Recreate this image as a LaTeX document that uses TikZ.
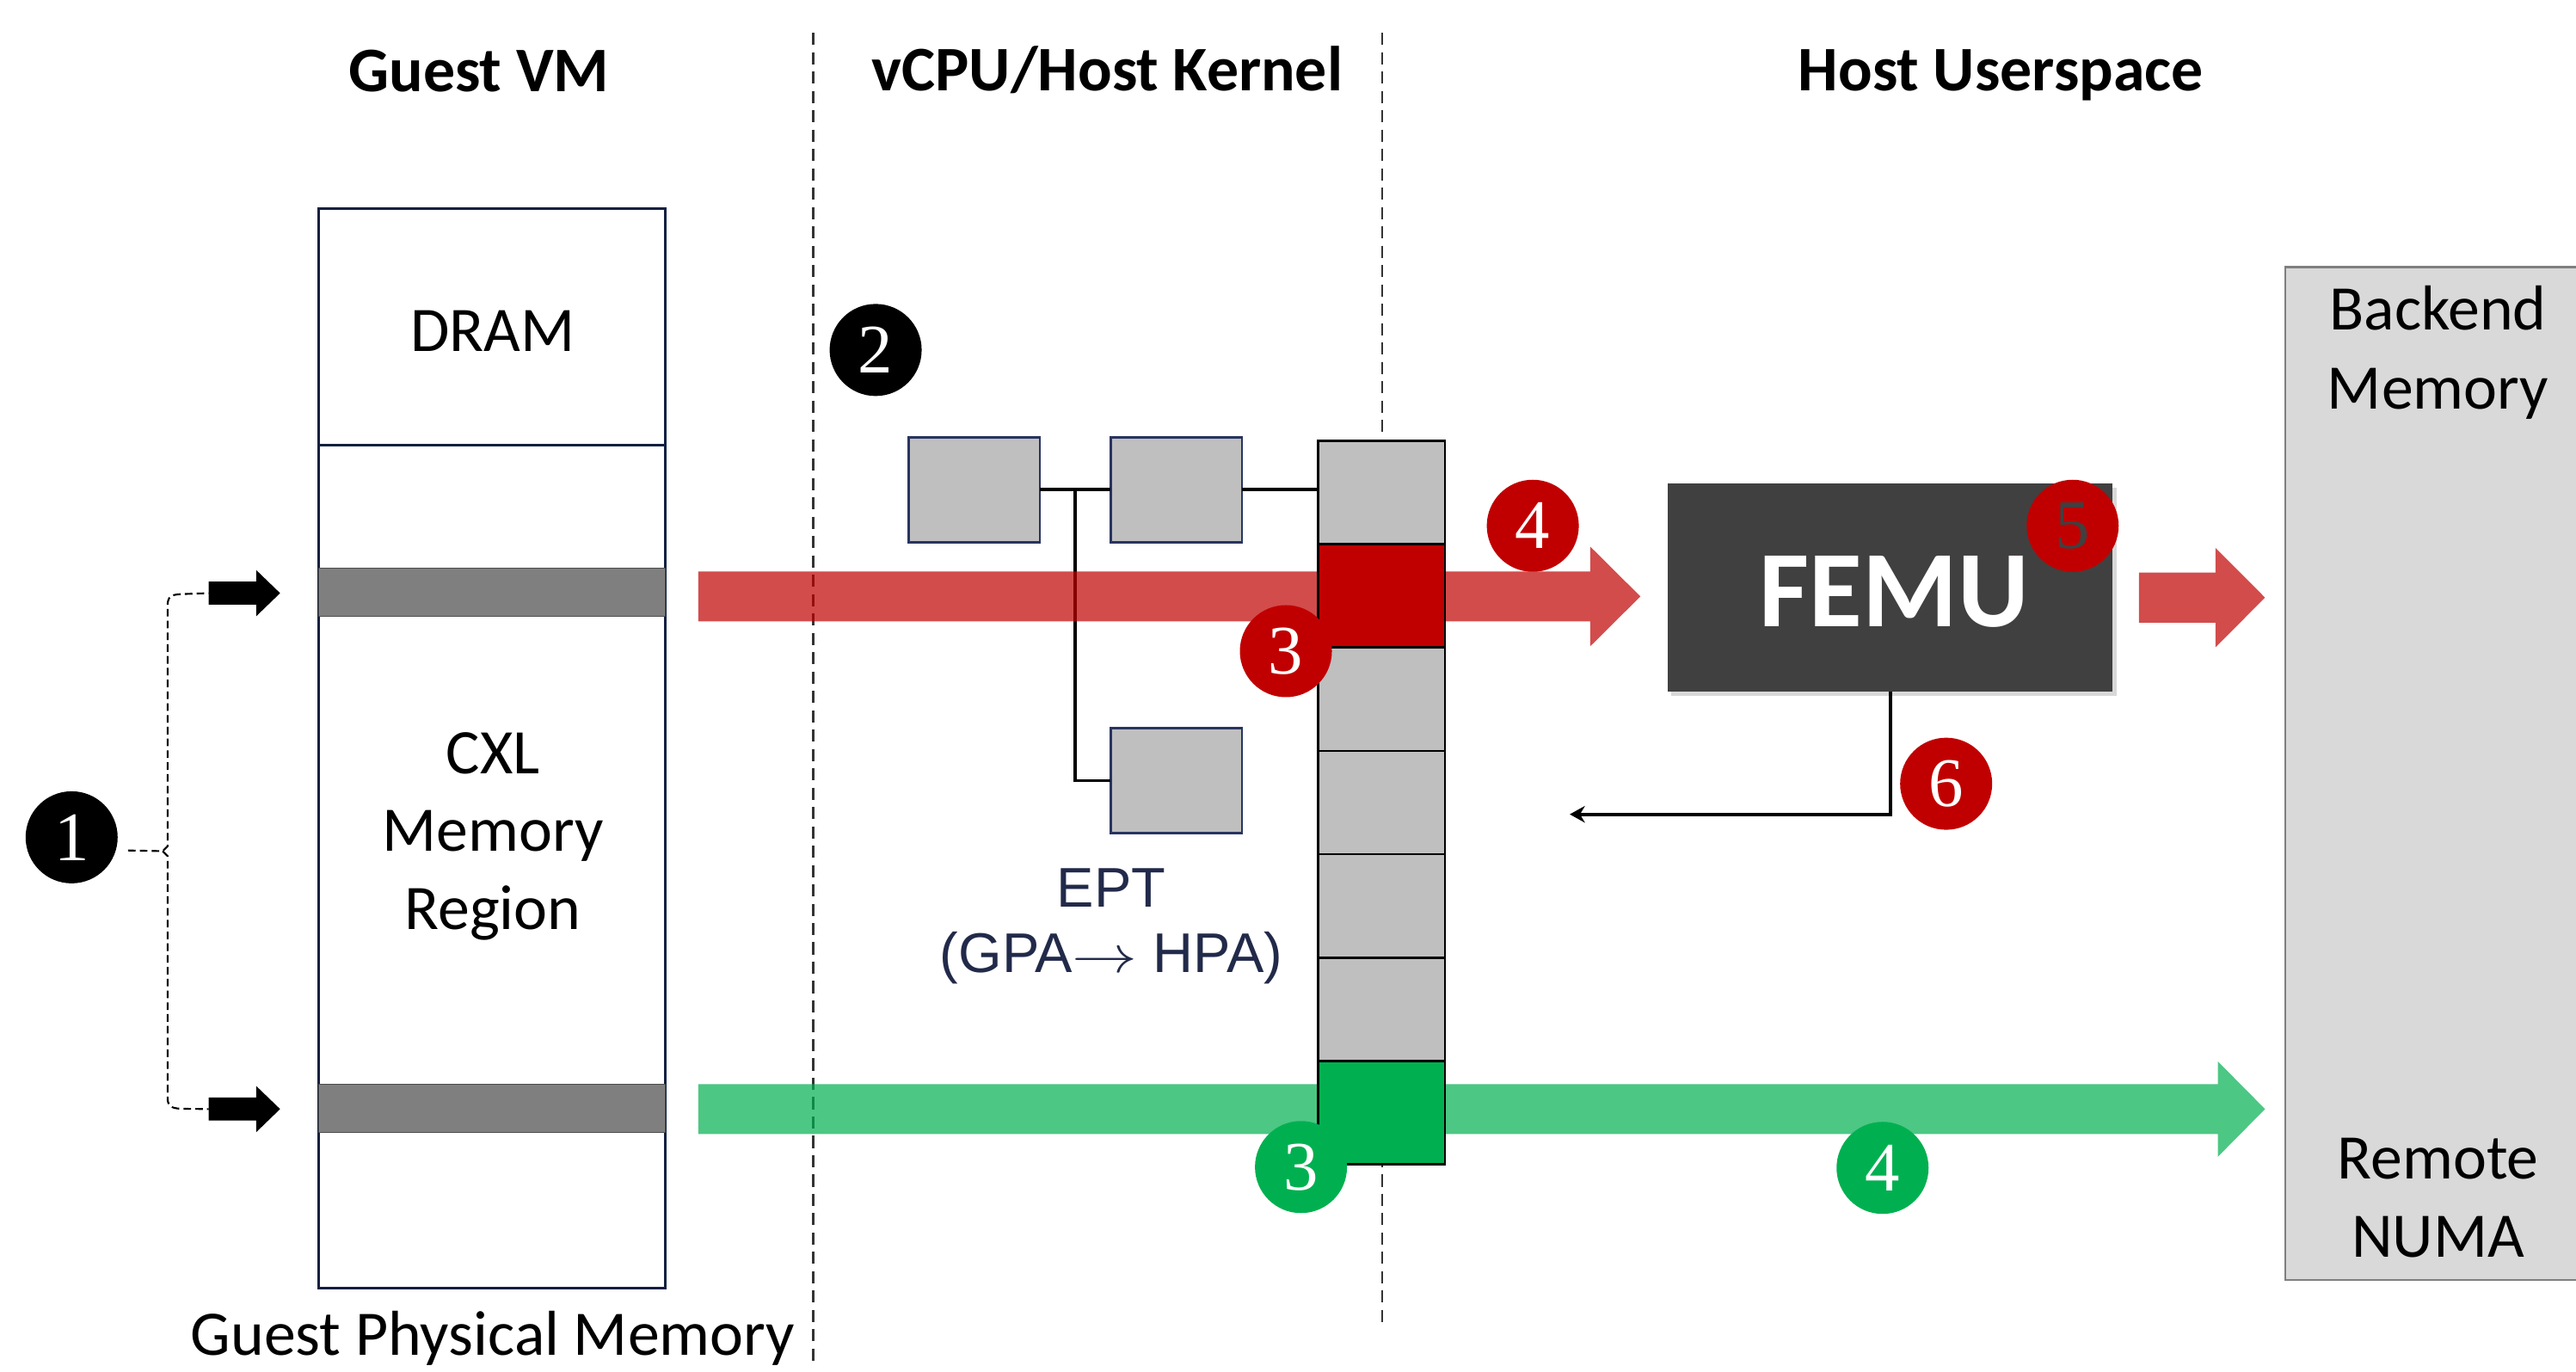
\documentclass[tikz,border=0pt]{standalone}
\usepackage{fontspec}
\setmainfont{Carlito}
\newfontfamily\numfont{Liberation Serif}
\newfontfamily\eptfont{Liberation Sans}
\usetikzlibrary{arrows.meta,shadows,calc}
\definecolor{navy}{RGB}{16,32,64}
\definecolor{boxnavy}{RGB}{40,52,96}
\definecolor{cellgray}{RGB}{191,191,191}
\definecolor{barfill}{RGB}{127,127,127}
\definecolor{dred}{RGB}{192,0,0}
\definecolor{dgreen}{RGB}{0,176,80}
\definecolor{femubg}{RGB}{64,64,64}
\definecolor{eptc}{RGB}{34,42,74}
\definecolor{backfill}{RGB}{217,217,217}
\definecolor{backline}{RGB}{127,127,127}
\newcommand\blkarrow[7]{\fill[#1] ({#2},{#5-#6}) -- ({#3},{#5-#6}) -- ({#3},{#5-#7}) -- ({#4},{#5}) -- ({#3},{#5+#7}) -- ({#3},{#5+#6}) -- ({#2},{#5+#6}) -- cycle;}
\begin{document}
\begin{tikzpicture}[x=0.191mm,y=-0.191mm,
  sz/.style 2 args={minimum width=#1*0.191mm, minimum height=#2*0.191mm},
  blockbox/.style={anchor=north west, inner sep=0pt, outer sep=0pt},
  hdr/.style={font=\bfseries\fontsize{21}{25}\selectfont, anchor=base, inner sep=0pt},
  txt/.style={font=\fontsize{21}{25.8}\selectfont, align=center, inner sep=0pt},
  numc/.style={circle, minimum size=10.7mm, inner sep=0pt, text=white, font=\numfont\fontsize{23}{23}\selectfont},
  blknum/.style={numc, fill=black},
  rednum/.style={numc, fill=dred},
  grnnum/.style={numc, fill=dgreen},
  smallbox/.style={blockbox, sz={80}{64}, fill=cellgray, draw=boxnavy, line width=0.8pt},
  cellbox/.style={blockbox, sz={77}{62.9}, draw=black, line width=0.8pt},
  tree/.style={draw=black, line width=1pt},
  sectline/.style={draw=black!80, line width=0.6pt, dash pattern=on 4pt off 2.4pt},
  bracketline/.style={draw=black, line width=0.6pt, dash pattern=on 2.5pt off 1.4pt},
  fbline/.style={draw=black, line width=1.1pt, -{Stealth[length=5pt,width=5.5pt]}}
]
\useasboundingbox (0,0) rectangle (1568,835);
\fill[white] (0,0) rectangle (1568,835);

% backend memory
\node[blockbox, sz={200}{616.5}, fill=backfill] (back) at (1391,162.5) {};
\draw[backline, line width=0.8pt] (back.north east) -- (back.north west) -- (back.south west) -- (back.south east);
\node[txt, font=\fontsize{21}{26}\selectfont] (backt) at (1484,214.5) {Backend\\Memory};
\node[txt, font=\fontsize{21}{26}\selectfont] (numat) at (1484,729) {Remote\\NUMA};

% section lines
\coordinate (d1t) at (495,20); \coordinate (d1b) at (495,828);
\coordinate (d2t) at (841.4,20); \coordinate (d2b) at (841.4,808);
\draw[sectline] (d1t) -- (d1b);
\draw[sectline] (d2t) -- (d2b);

% guest physical memory
\node[blockbox, sz={211}{657}, draw=navy, line width=0.9pt] (gm) at (194,127) {};
\coordinate (sepL) at (194,271);
\draw[navy, line width=0.8pt] (sepL) -- (sepL -| gm.east);
\node[blockbox, sz={211}{29}, fill=barfill, draw=black!70, line width=0.3pt] (bar1) at (194,346) {};
\node[blockbox, sz={211}{29}, fill=barfill, draw=black!70, line width=0.3pt] (bar2) at (194,660) {};
\node[txt, anchor=base] (dram) at (300,213.8) {DRAM};
\node[txt] (cxl) at (300,509) {CXL\\Memory\\Region};
\node[txt, anchor=base] (gpmt) at (300,825) {Guest Physical Memory};

% step 1
\node[blknum] (n1) at (43.6,509.6) {1};
\coordinate (a1) at (127,361);
\coordinate (a2) at (127,675);
\draw[bracketline] ($(n1.east)+(6,8)$) -- (99,518) -- (102,515) -- (102,369) .. controls (102,363) and (104,362) .. (110,361.6) -- (a1);
\draw[bracketline] (99,518) -- (102,521) -- (102,668) .. controls (102,673) and (104,674.5) .. (110,674.8) -- (a2);
\blkarrow{black}{127}{156}{170.5}{361}{7}{14}
\blkarrow{black}{127}{156}{170.5}{675}{7}{14}

% EPT tree
\node[smallbox] (A) at (553,266) {};
\node[smallbox] (B) at (676,266) {};
\node[smallbox] (C) at (676,443) {};
\coordinate (j) at ($(A.east)!0.5!(B.west)$);

% table
\foreach \i/\c in {1/cellgray,2/dred,3/cellgray,4/cellgray,5/cellgray,6/cellgray,7/dgreen}
  \node[cellbox, fill=\c] (t\i) at (802.5,{268.3+(\i-1)*62.9}) {};

\draw[tree] (A.east) -- (B.west);
\draw[tree] (B.east) -- (B.east -| t1.west);
\draw[tree] (j) |- (C.west);

% flow bands
\blkarrow{dred, fill opacity=0.7}{425}{968}{998.5}{363}{15.2}{30.3}
\blkarrow{dred, fill opacity=0.7}{1302}{1348.5}{1378.7}{363.7}{15.2}{30.3}
\blkarrow{dgreen, fill opacity=0.7}{425}{1350}{1378.7}{675}{15.2}{29}

% redraw table cells on top of bands
\foreach \i/\c in {2/dred,7/dgreen}
  \node[cellbox, fill=\c] (u\i) at (802.5,{268.3+(\i-1)*62.9}) {};

% FEMU
\node[blockbox, sz={271}{127}, fill=femubg, drop shadow={shadow xshift=1.3pt, shadow yshift=-1.5pt, opacity=0.3}] (femu) at (1015,294) {};
\node[text=white, font=\bfseries\fontsize{36}{36}\selectfont, inner sep=0pt] (femut) at (1153,360) {FEMU};
\coordinate (fbend) at (955.5,495.6);
\draw[fbline] (femu.south) |- (fbend);

% numbered markers
\node[blknum] (n2) at (533,213) {2};
\node[rednum] (r3) at (782.7,396.3) {3};
\node[rednum] (r4) at (933,320) {4};
\node[rednum, text=femubg] (r5) at (1261.6,320) {5};
\node[rednum] (r6) at (1184.6,477) {6};
\node[grnnum] (g3) at (791.9,710.3) {3};
\node[grnnum] (g4) at (1145.9,710.8) {4};

% EPT label
\node[align=center, text=eptc, font=\eptfont\fontsize{18.5}{21.7}\selectfont, inner sep=0pt] (ept) at (676.5,563.8) {EPT\\(GPA\scalebox{1.25}[1]{$\rightarrow$} HPA)};

% headers
\node[hdr] (h1) at (291.6,55.5) {Guest VM};
\node[hdr] (h2) at (674,55) {vCPU/Host Kernel};
\node[hdr] (h3) at (1217.8,55) {Host Userspace};
\end{tikzpicture}
\end{document}
